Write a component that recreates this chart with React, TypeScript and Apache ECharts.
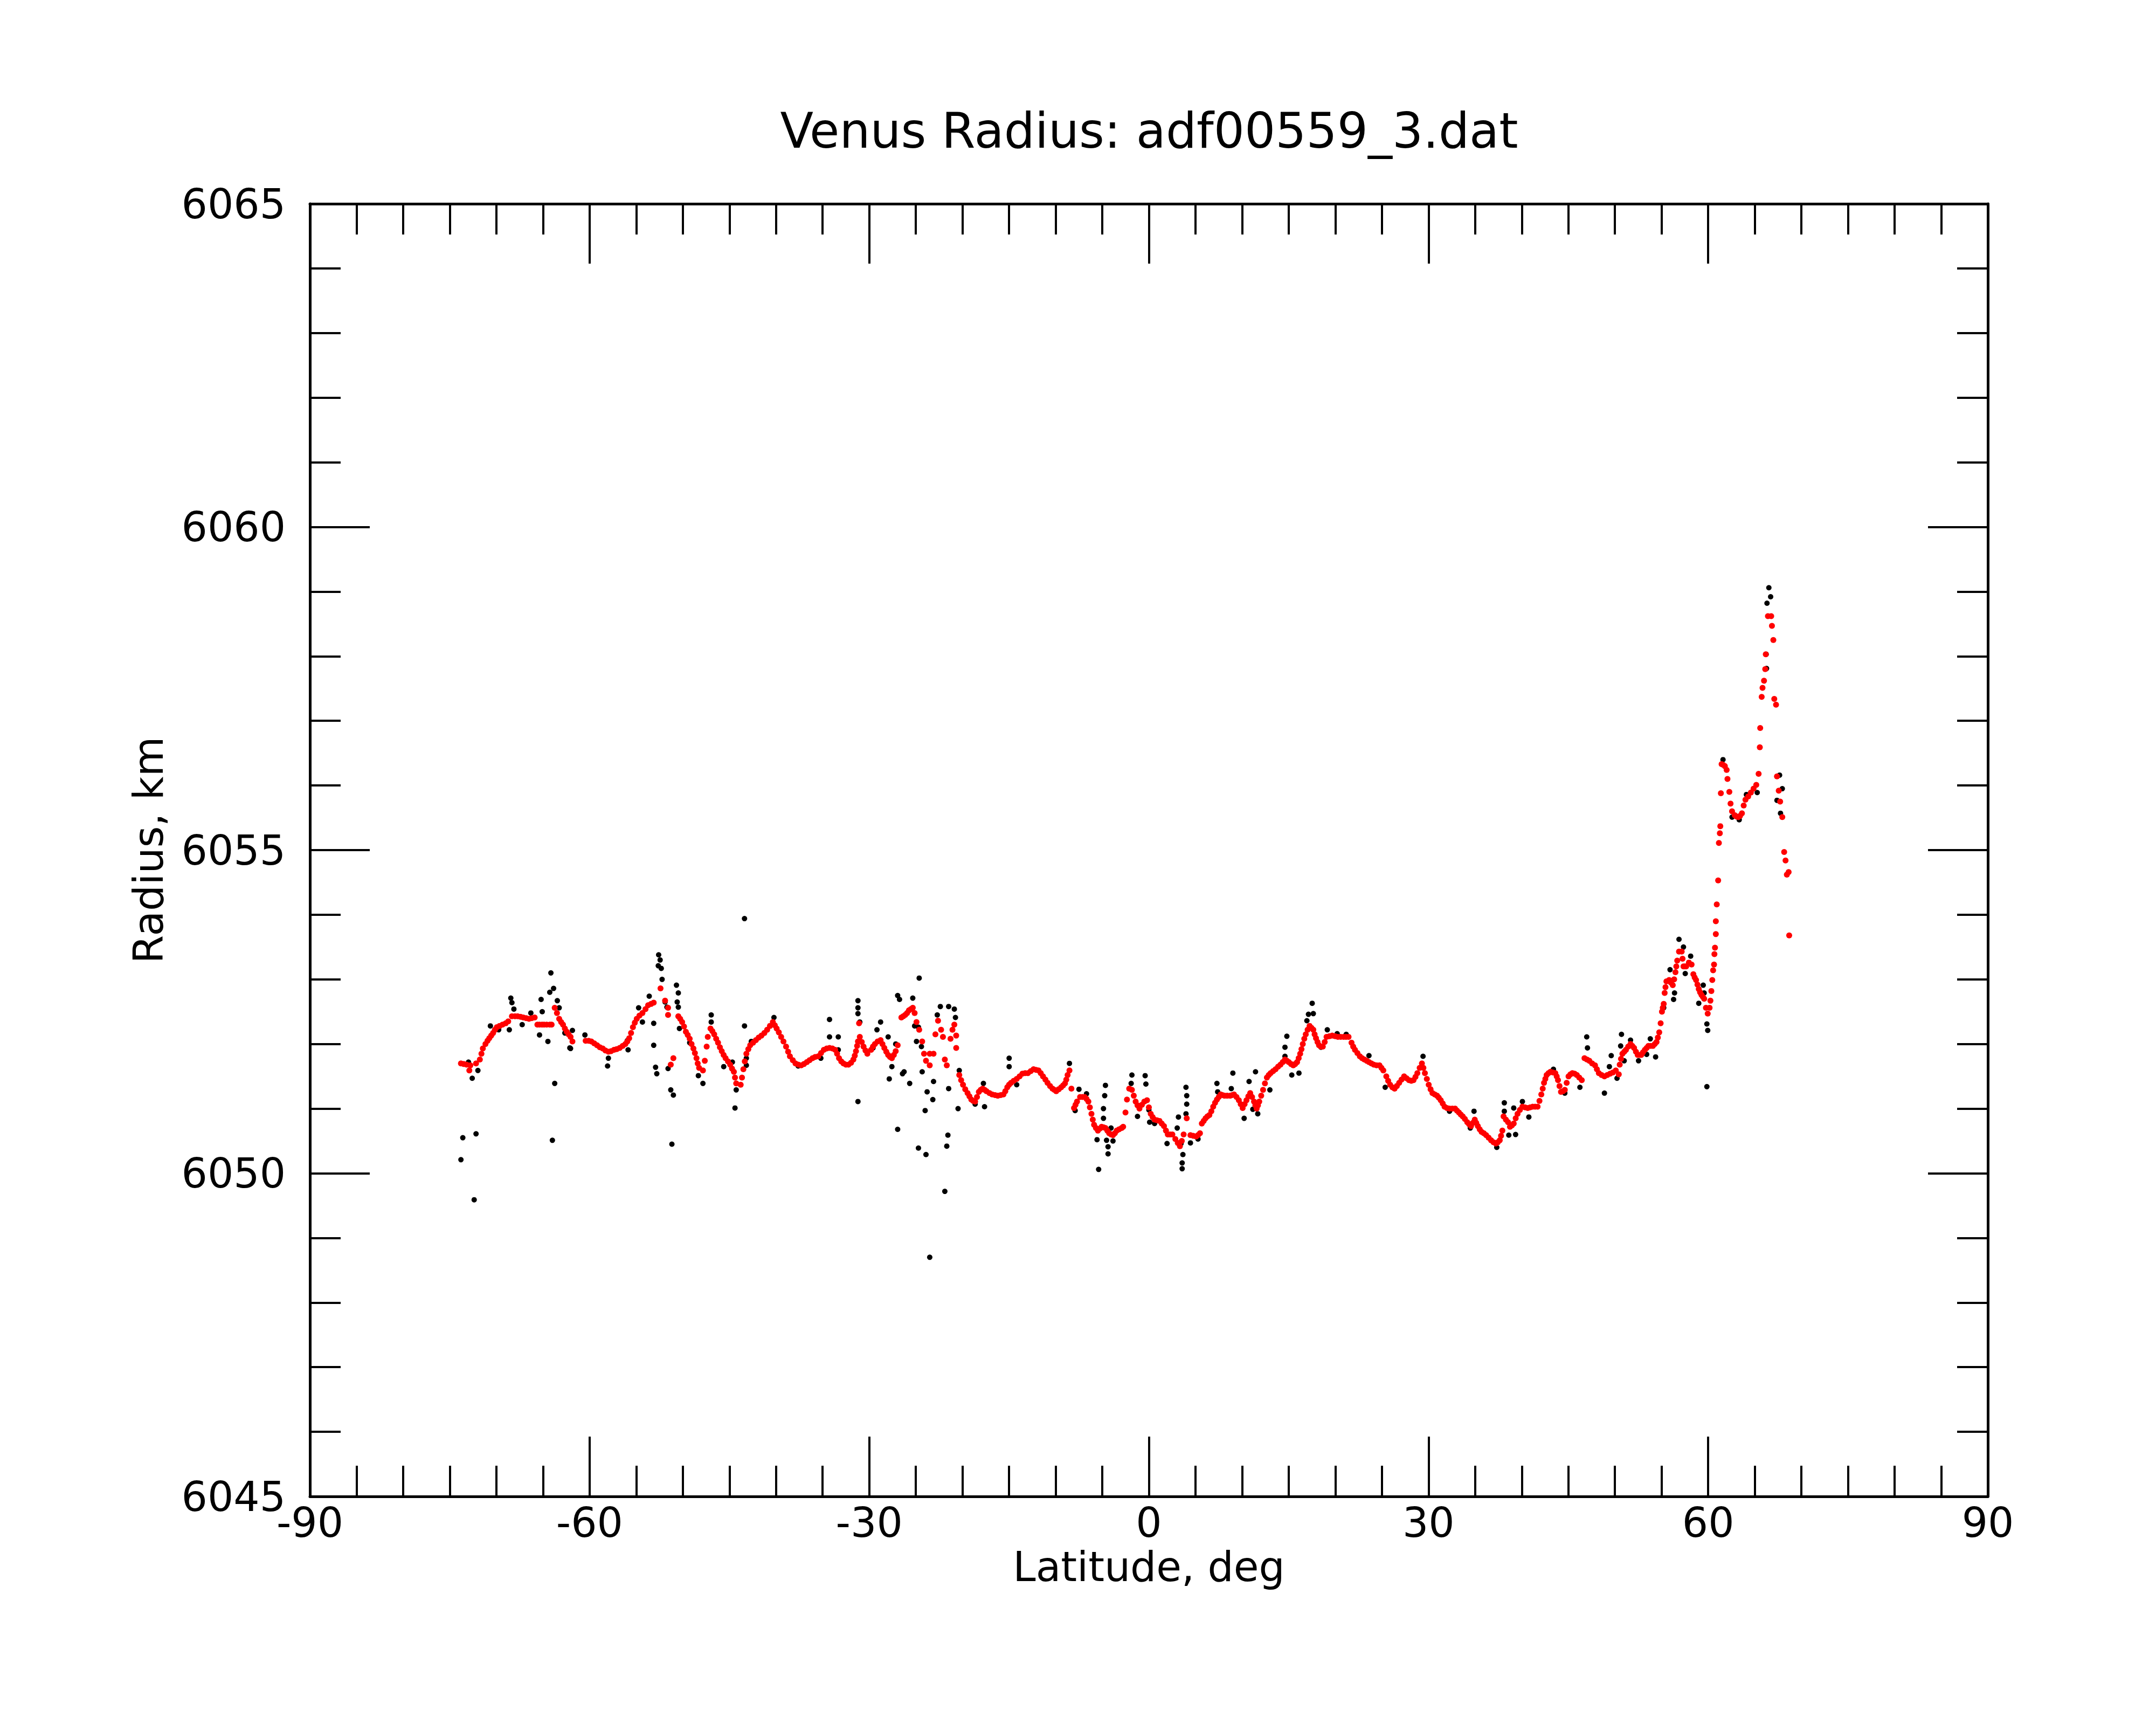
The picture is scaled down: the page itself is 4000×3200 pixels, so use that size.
import React, { useEffect, useRef } from "react";
import * as echarts from "echarts";

const chartTitle = "Venus Radius: adf00559_3.dat";
const xTitle = "Latitude, deg";
const yTitle = "Radius, km";

// Filtered (red) profile, [latitude deg, radius km]
const redSouth: number[][] = [
  [-73.8, 6051.7], [-73.5, 6051.69], [-73.19, 6051.68], [-72.9, 6051.59], [-72.79, 6051.67], [-72.18, 6051.7],
  [-71.77, 6051.76], [-71.6, 6051.85], [-71.45, 6051.93], [-71.17, 6052.0], [-70.95, 6052.05], [-70.76, 6052.09],
  [-70.55, 6052.13], [-70.35, 6052.17], [-70.15, 6052.22], [-69.95, 6052.26], [-69.65, 6052.28], [-69.34, 6052.3],
  [-69.0, 6052.32], [-68.73, 6052.35], [-68.33, 6052.43], [-68.0, 6052.43], [-67.72, 6052.43], [-67.4, 6052.42],
  [-67.11, 6052.41], [-66.8, 6052.4], [-66.5, 6052.39], [-66.2, 6052.4], [-65.89, 6052.41], [-65.6, 6052.3],
  [-65.37, 6052.3], [-65.1, 6052.3], [-64.88, 6052.3], [-64.6, 6052.3], [-64.27, 6052.3], [-64.07, 6052.3],
  [-63.74, 6052.56], [-63.5, 6052.48], [-63.26, 6052.39], [-63.05, 6052.34], [-62.85, 6052.3], [-62.65, 6052.24],
  [-62.45, 6052.19], [-62.25, 6052.15], [-62.04, 6052.11], [-61.84, 6052.04],
  [-60.42, 6052.05], [-60.1, 6052.05], [-59.81, 6052.04], [-59.5, 6052.01], [-59.2, 6051.98], [-58.9, 6051.95],
  [-58.59, 6051.93], [-58.3, 6051.9], [-57.98, 6051.88], [-57.7, 6051.89], [-57.38, 6051.91], [-57.1, 6051.92],
  [-56.77, 6051.94], [-56.45, 6051.97], [-56.16, 6052.0], [-55.95, 6052.04], [-55.75, 6052.09], [-55.55, 6052.17],
  [-55.35, 6052.26], [-55.15, 6052.33], [-54.94, 6052.39], [-54.65, 6052.44], [-54.33, 6052.48], [-54.0, 6052.54],
  [-53.72, 6052.6], [-53.4, 6052.62], [-53.12, 6052.64], [-52.39, 6052.86], [-51.9, 6052.67], [-51.58, 6052.56],
  [-51.58, 6052.45], [-51.29, 6051.68], [-51.01, 6051.78], [-50.48, 6052.43], [-50.28, 6052.39], [-50.07, 6052.34],
  [-49.87, 6052.27], [-49.67, 6052.19], [-49.47, 6052.14], [-49.26, 6052.08], [-49.06, 6052.0], [-48.86, 6051.93],
  [-48.7, 6051.86], [-48.53, 6051.78], [-48.4, 6051.7], [-48.25, 6051.63], [-47.84, 6051.59], [-47.64, 6051.74],
  [-47.44, 6051.96], [-47.32, 6052.11], [-47.03, 6052.24], [-46.83, 6052.2], [-46.63, 6052.15], [-46.42, 6052.08],
  [-46.22, 6052.02], [-46.02, 6051.95], [-45.82, 6051.89], [-45.62, 6051.83], [-45.41, 6051.78], [-45.15, 6051.73],
  [-44.92, 6051.68], [-44.72, 6051.62], [-44.52, 6051.57], [-44.4, 6051.48], [-44.27, 6051.39], [-43.79, 6051.37],
  [-43.65, 6051.48], [-43.5, 6051.61], [-43.35, 6051.73], [-43.18, 6051.85], [-42.97, 6051.92], [-42.77, 6051.98],
  [-42.46, 6052.02], [-42.16, 6052.06], [-41.86, 6052.1], [-41.56, 6052.13], [-41.25, 6052.17], [-40.95, 6052.22],
  [-40.65, 6052.28], [-40.34, 6052.34], [-40.13, 6052.29], [-39.93, 6052.24], [-39.7, 6052.18], [-39.45, 6052.11],
  [-39.2, 6052.04], [-38.92, 6051.96], [-38.7, 6051.88], [-38.51, 6051.81], [-38.2, 6051.75], [-37.91, 6051.7],
  [-37.6, 6051.68], [-37.3, 6051.67], [-37.0, 6051.69], [-36.69, 6051.72], [-36.4, 6051.75], [-36.08, 6051.78],
  [-35.8, 6051.8], [-35.47, 6051.81], [-35.17, 6051.86], [-34.87, 6051.91], [-34.56, 6051.93], [-34.26, 6051.94],
  [-33.95, 6051.93], [-33.65, 6051.91], [-33.45, 6051.85], [-33.24, 6051.78], [-33.0, 6051.73], [-32.76, 6051.7],
  [-32.5, 6051.68], [-32.23, 6051.68], [-31.95, 6051.71], [-31.7, 6051.76], [-31.55, 6051.82], [-31.42, 6051.89],
  [-31.3, 6051.97], [-31.21, 6052.04], [-31.09, 6052.32], [-31.01, 6052.11], [-30.8, 6052.03], [-30.61, 6051.96],
  [-30.4, 6051.9], [-30.2, 6051.85], [-29.8, 6051.91], [-29.6, 6051.96], [-29.39, 6052.0], [-29.1, 6052.04],
  [-28.78, 6052.06], [-28.58, 6052.0], [-28.38, 6051.94], [-28.17, 6051.88], [-27.97, 6051.83], [-27.77, 6051.8],
  [-27.57, 6051.78], [-27.36, 6051.83], [-27.16, 6051.89], [-26.95, 6051.98], [-26.55, 6052.41], [-26.35, 6052.43],
  [-26.14, 6052.45], [-25.94, 6052.48], [-25.74, 6052.52], [-25.54, 6052.54], [-25.33, 6052.56], [-25.13, 6052.48],
  [-24.93, 6052.34], [-24.64, 6052.22], [-24.32, 6052.04], [-24.12, 6051.85], [-23.91, 6051.74], [-23.51, 6051.85],
  [-23.51, 6051.67], [-23.1, 6051.85], [-22.9, 6052.15], [-22.62, 6052.36], [-22.29, 6052.22], [-22.09, 6052.11],
  [-21.89, 6051.76], [-21.68, 6051.67], [-21.28, 6052.08], [-21.07, 6052.22], [-20.87, 6052.3], [-20.67, 6052.13],
  [-20.67, 6051.94], [-20.34, 6051.52], [-20.14, 6051.44], [-19.94, 6051.37], [-19.7, 6051.3], [-19.45, 6051.24],
  [-19.25, 6051.19], [-19.05, 6051.14], [-18.85, 6051.12], [-18.64, 6051.11], [-18.44, 6051.18], [-18.24, 6051.26],
  [-18.04, 6051.29], [-17.83, 6051.31], [-17.62, 6051.29], [-17.42, 6051.27], [-17.1, 6051.24], [-16.81, 6051.22],
  [-16.5, 6051.21], [-16.21, 6051.2], [-15.9, 6051.21], [-15.6, 6051.22], [-15.4, 6051.27], [-15.19, 6051.33],
  [-15.0, 6051.37], [-14.79, 6051.4], [-14.5, 6051.43], [-14.18, 6051.46], [-13.87, 6051.5], [-13.57, 6051.54],
  [-13.27, 6051.55],
];

const redMiddle: number[][] = [
  [-12.98, 6051.55], [-12.67, 6051.58], [-12.37, 6051.61], [-12.1, 6051.6], [-11.84, 6051.59], [-11.6, 6051.55],
  [-11.36, 6051.5], [-11.1, 6051.45], [-10.87, 6051.4], [-10.6, 6051.35], [-10.34, 6051.31], [-10.14, 6051.29],
  [-9.94, 6051.27], [-9.67, 6051.3], [-9.41, 6051.33], [-9.2, 6051.36], [-9.0, 6051.39], [-8.86, 6051.45],
  [-8.72, 6051.52], [-8.52, 6051.59], [-8.31, 6051.31], [-8.03, 6051.01], [-7.87, 6051.06], [-7.71, 6051.11],
  [-7.38, 6051.18], [-7.13, 6051.18], [-6.89, 6051.18], [-6.69, 6051.15], [-6.49, 6051.11], [-6.33, 6051.02],
  [-6.16, 6050.92], [-6.02, 6050.83], [-5.88, 6050.75], [-5.68, 6050.7], [-5.47, 6050.66], [-5.27, 6050.69],
  [-5.07, 6050.72], [-4.86, 6050.71], [-4.66, 6050.7], [-4.46, 6050.66], [-4.26, 6050.62], [-4.05, 6050.6],
  [-3.85, 6050.59], [-3.65, 6050.62], [-3.45, 6050.66], [-3.2, 6050.68], [-2.92, 6050.7], [-2.76, 6050.72],
  [-2.51, 6050.94], [-2.35, 6051.14], [-2.11, 6051.31], [-1.82, 6051.29], [-1.62, 6051.2], [-1.42, 6051.11],
  [-1.22, 6051.05], [-1.01, 6051.0], [-0.75, 6051.06], [-0.49, 6051.11], [-0.2, 6051.13], [0.0, 6051.02],
  [0.2, 6050.92], [0.4, 6050.87], [0.61, 6050.83], [0.88, 6050.82], [1.14, 6050.81], [1.38, 6050.77],
  [1.62, 6050.73], [1.83, 6050.66], [2.03, 6050.6], [2.27, 6050.6], [2.52, 6050.6], [2.84, 6050.53],
  [3.1, 6050.47], [3.33, 6050.42], [3.53, 6050.5], [3.73, 6050.6], [4.06, 6050.85], [4.46, 6050.59],
  [4.76, 6050.58], [5.07, 6050.57], [5.27, 6050.59], [5.48, 6050.62], [5.68, 6050.77], [5.88, 6050.81],
  [6.08, 6050.85], [6.28, 6050.88], [6.49, 6050.9], [6.7, 6050.96], [6.9, 6051.03], [7.1, 6051.09],
  [7.3, 6051.14], [7.5, 6051.18], [7.71, 6051.22], [7.9, 6051.21], [8.11, 6051.2], [8.4, 6051.2],
  [8.72, 6051.2], [8.93, 6051.21], [9.13, 6051.22], [9.4, 6051.18], [9.65, 6051.13], [9.85, 6051.07],
  [10.06, 6051.01], [10.27, 6051.07], [10.47, 6051.13], [10.67, 6051.19], [10.87, 6051.24], [11.07, 6051.18],
  [11.28, 6051.11], [11.42, 6051.05], [11.56, 6051.0], [11.7, 6051.05], [11.84, 6051.11], [12.05, 6051.2],
  [12.25, 6051.29], [12.45, 6051.39], [12.66, 6051.48], [12.86, 6051.52], [13.06, 6051.55], [13.33, 6051.58],
  [13.59, 6051.61], [13.86, 6051.65], [14.12, 6051.68], [14.36, 6051.72], [14.6, 6051.76], [14.8, 6051.74],
  [15.01, 6051.72], [15.25, 6051.69], [15.49, 6051.67], [15.7, 6051.69], [15.9, 6051.72], [16.07, 6051.78],
  [16.23, 6051.85], [16.37, 6051.92], [16.51, 6052.0], [16.67, 6052.08], [16.83, 6052.15], [17.03, 6052.22],
  [17.24, 6052.28], [17.44, 6052.25], [17.64, 6052.22], [17.78, 6052.15], [17.93, 6052.09], [18.09, 6052.03],
  [18.25, 6051.98], [18.45, 6051.96], [18.66, 6051.96], [18.86, 6052.03], [19.06, 6052.11], [19.37, 6052.12],
  [19.67, 6052.13], [19.98, 6052.12], [20.28, 6052.11], [20.58, 6052.11], [20.89, 6052.11], [21.15, 6052.11],
  [21.42, 6052.11], [21.74, 6052.02], [21.92, 6051.96], [22.11, 6051.91], [22.37, 6051.86], [22.63, 6051.81],
  [22.87, 6051.78], [23.12, 6051.76], [23.37, 6051.74], [23.61, 6051.72], [23.87, 6051.7], [24.13, 6051.68],
  [24.43, 6051.67], [24.74, 6051.67], [24.95, 6051.63], [25.15, 6051.59], [25.47, 6051.5], [25.67, 6051.43],
  [25.88, 6051.37], [26.12, 6051.33], [26.36, 6051.31], [26.6, 6051.35], [26.85, 6051.4], [27.1, 6051.45],
  [27.38, 6051.5], [27.64, 6051.47], [27.9, 6051.44], [28.15, 6051.43], [28.39, 6051.44], [28.6, 6051.49],
  [28.8, 6051.55], [29.05, 6051.63], [29.29, 6051.7], [29.45, 6051.63], [29.61, 6051.55], [29.82, 6051.46],
  [30.02, 6051.37], [30.22, 6051.3], [30.42, 6051.24], [30.67, 6051.22], [30.91, 6051.2], [31.1, 6051.17],
  [31.31, 6051.13], [31.52, 6051.08], [31.72, 6051.03], [31.98, 6051.01], [32.25, 6051.0], [32.55, 6051.0],
  [32.85, 6051.0], [33.05, 6050.97], [33.26, 6050.94], [33.46, 6050.91], [33.67, 6050.88], [33.9, 6050.84],
  [34.15, 6050.79], [34.35, 6050.76], [34.56, 6050.73], [34.76, 6050.78], [34.96, 6050.83], [35.12, 6050.78],
  [35.29, 6050.73], [35.49, 6050.68], [35.69, 6050.64], [35.93, 6050.62], [36.18, 6050.59], [36.45, 6050.55],
  [36.71, 6050.51], [36.97, 6050.48], [37.23, 6050.46], [37.43, 6050.48], [37.64, 6050.51], [37.78, 6050.58],
  [37.92, 6050.66], [38.05, 6050.88], [38.3, 6050.83], [38.53, 6050.79], [38.74, 6050.72], [38.94, 6050.74],
  [39.14, 6050.77], [39.35, 6050.85], [39.55, 6050.92], [39.8, 6050.98], [40.07, 6051.03], [40.35, 6051.02],
  [40.64, 6051.01], [40.9, 6051.02], [41.17, 6051.03], [41.43, 6051.03], [41.7, 6051.03], [41.9, 6051.12],
  [42.1, 6051.22], [42.25, 6051.31], [42.39, 6051.4], [42.53, 6051.46], [42.67, 6051.52], [42.87, 6051.55],
  [43.08, 6051.57], [43.34, 6051.56], [43.6, 6051.55], [43.75, 6051.5], [43.89, 6051.44], [44.05, 6051.35],
  [44.21, 6051.26], [44.42, 6051.27], [44.62, 6051.29], [44.82, 6051.4], [45.02, 6051.5], [45.22, 6051.53],
  [45.43, 6051.55], [45.67, 6051.54], [45.91, 6051.52], [46.17, 6051.48], [46.44, 6051.44], [46.73, 6051.78],
  [47.0, 6051.76], [47.25, 6051.74], [47.55, 6051.7], [47.86, 6051.67], [48.06, 6051.61], [48.27, 6051.55],
  [48.57, 6051.52], [48.87, 6051.5], [49.17, 6051.52], [49.48, 6051.54], [49.78, 6051.56], [50.09, 6051.59],
];

const redNorth: number[][] = [
  [50.41, 6051.53], [50.51, 6051.68], [50.65, 6051.77], [50.8, 6051.85], [51.0, 6051.88], [51.18, 6051.91],
  [51.42, 6051.96], [51.67, 6052.0], [51.86, 6051.97], [52.05, 6051.94], [52.25, 6051.88], [52.44, 6051.83],
  [52.63, 6051.83], [52.82, 6051.83], [53.0, 6051.87], [53.21, 6051.91], [53.4, 6051.94], [53.59, 6051.97],
  [53.83, 6051.97], [54.07, 6051.97], [54.27, 6052.0], [54.46, 6052.03], [54.6, 6052.1], [54.75, 6052.18],
  [54.9, 6052.32], [55.04, 6052.5], [55.13, 6052.56], [55.23, 6052.62], [55.33, 6052.79], [55.42, 6052.88],
  [55.52, 6052.97], [55.81, 6052.99], [56.0, 6052.95], [56.2, 6052.91], [56.35, 6053.0], [56.49, 6053.11],
  [56.58, 6053.2], [56.68, 6053.29], [56.87, 6053.43], [57.16, 6053.43], [57.25, 6053.32], [57.35, 6053.2],
  [57.5, 6053.2], [57.64, 6053.2], [57.93, 6053.26], [58.22, 6053.23], [58.41, 6053.08], [58.55, 6053.03],
  [58.7, 6052.99], [58.85, 6052.92], [58.99, 6052.85], [59.13, 6052.8], [59.28, 6052.76], [59.43, 6052.73],
  [59.57, 6052.7], [59.76, 6052.56], [59.95, 6052.47], [60.15, 6052.56], [60.24, 6052.67], [60.34, 6052.82],
  [60.44, 6052.99], [60.53, 6053.14], [60.63, 6053.23], [60.67, 6053.39], [60.73, 6053.49], [60.82, 6053.7],
  [60.82, 6053.9], [60.92, 6054.16], [61.07, 6054.53], [61.15, 6055.11], [61.25, 6055.26], [61.3, 6055.37],
  [61.36, 6055.88], [61.44, 6056.33], [61.6, 6056.32], [61.79, 6056.3], [61.98, 6056.24], [62.07, 6056.1],
  [62.27, 6055.9], [62.4, 6055.72], [62.56, 6055.6], [62.85, 6055.54], [63.04, 6055.52], [63.23, 6055.51],
  [63.42, 6055.53], [63.62, 6055.57], [63.81, 6055.69], [64.0, 6055.78], [64.29, 6055.83], [64.58, 6055.89],
  [64.87, 6055.95], [65.16, 6056.01], [65.41, 6056.18], [65.54, 6056.59], [65.58, 6056.89], [65.74, 6057.37],
  [65.83, 6057.51], [65.99, 6057.62], [66.12, 6057.8], [66.18, 6058.03], [66.41, 6058.62], [66.76, 6058.62],
  [66.84, 6058.47], [66.99, 6058.25], [67.09, 6057.34], [67.28, 6057.25], [67.38, 6056.14], [67.57, 6055.92],
  [67.72, 6055.75], [67.95, 6055.51], [68.15, 6054.97], [68.3, 6054.84], [68.44, 6054.62], [68.63, 6054.66],
  [68.69, 6053.68],
];

// Raw (black) measurements, [latitude deg, radius km]
const blackSouth: number[][] = [
  [-73.8, 6050.21], [-73.6, 6050.55], [-72.38, 6049.59], [-72.18, 6050.61], [-72.59, 6051.47],
  [-71.98, 6051.59], [-72.99, 6051.72], [-70.64, 6052.28], [-69.75, 6052.22], [-68.61, 6052.22],
  [-68.45, 6052.71], [-68.33, 6052.64], [-68.12, 6052.54], [-67.23, 6052.3], [-66.3, 6052.48],
  [-65.37, 6052.14], [-65.2, 6052.69], [-65.08, 6052.5], [-64.47, 6052.04], [-64.27, 6052.8],
  [-64.15, 6053.1], [-63.86, 6052.86], [-63.46, 6052.67], [-63.26, 6052.56], [-63.74, 6051.39],
  [-63.99, 6050.51], [-62.65, 6052.17], [-61.84, 6052.21], [-62.12, 6051.94], [-62.04, 6051.93],
  [-60.5, 6052.14], [-57.98, 6051.78], [-58.07, 6051.66], [-55.87, 6051.91], [-55.96, 6052.05],
  [-54.74, 6052.56], [-54.33, 6052.34], [-53.6, 6052.74], [-53.12, 6052.32], [-53.12, 6051.98],
  [-52.92, 6051.64], [-52.79, 6051.54], [-52.59, 6053.38], [-52.43, 6053.3], [-52.63, 6053.21],
  [-52.31, 6053.17], [-52.22, 6053.0], [-51.58, 6051.62], [-51.29, 6051.29], [-51.01, 6051.21],
  [-51.17, 6050.45], [-50.68, 6052.91], [-50.48, 6052.79], [-50.6, 6052.65], [-50.48, 6052.57],
  [-51.9, 6052.65], [-51.7, 6052.57], [-50.36, 6052.24], [-49.26, 6052.02], [-47.84, 6051.39],
  [-48.33, 6051.51], [-46.95, 6052.45], [-46.95, 6052.34], [-45.61, 6051.65], [-44.68, 6051.72],
  [-44.27, 6051.29], [-44.4, 6051.01], [-43.38, 6052.28], [-43.38, 6053.94], [-43.18, 6051.67],
  [-43.18, 6051.78], [-42.65, 6052.04], [-40.22, 6052.41], [-37.62, 6051.66], [-35.19, 6051.78],
  [-34.26, 6052.11], [-34.26, 6052.38], [-33.32, 6052.11], [-33.32, 6051.91], [-31.21, 6052.67],
  [-31.21, 6052.56], [-31.21, 6052.47], [-31.21, 6051.11], [-31.01, 6052.34], [-29.17, 6052.22],
  [-29.59, 6051.94], [-28.78, 6052.34], [-27.97, 6052.11], [-27.85, 6051.46], [-27.57, 6051.65],
  [-27.16, 6052.0], [-26.95, 6052.75], [-26.75, 6052.69], [-26.43, 6051.54], [-26.26, 6051.57],
  [-25.66, 6051.39], [-26.95, 6050.68], [-25.33, 6052.71], [-25.13, 6052.28], [-24.72, 6052.26],
  [-24.64, 6053.02], [-24.93, 6052.04], [-24.4, 6051.96], [-24.72, 6050.39], [-24.32, 6051.57],
  [-23.91, 6050.29], [-24.0, 6050.97], [-23.79, 6051.26], [-23.51, 6048.7], [-23.18, 6051.14],
  [-23.1, 6051.42], [-22.7, 6052.45], [-22.37, 6052.58], [-21.89, 6049.72], [-21.68, 6050.42],
  [-21.56, 6050.59], [-21.48, 6051.31], [-21.48, 6052.58], [-20.87, 6052.54], [-20.75, 6052.41],
  [-20.47, 6051.0], [-20.34, 6051.59], [-17.75, 6051.39], [-17.63, 6051.03], [-18.64, 6051.07],
  [-14.99, 6051.78], [-14.99, 6051.65], [-14.18, 6051.37],
];

const blackMiddle: number[][] = [
  [-8.52, 6051.7], [-7.5, 6051.3], [-6.69, 6051.23], [-7.91, 6050.97], [-4.66, 6051.36],
  [-4.74, 6051.2], [-4.87, 6051.0], [-4.87, 6050.85], [-5.56, 6050.52], [-5.39, 6050.06],
  [-4.54, 6050.51], [-4.38, 6050.41], [-4.38, 6050.3], [-3.85, 6050.5], [-4.06, 6050.7],
  [-1.82, 6051.52], [-1.9, 6051.39], [-0.4, 6051.51], [-0.32, 6051.38], [-1.22, 6050.88],
  [0.0, 6050.98], [0.08, 6050.79], [0.61, 6050.77], [1.95, 6050.46], [3.04, 6050.7],
  [3.17, 6050.87], [3.98, 6051.33], [4.06, 6051.2], [4.06, 6051.07], [3.98, 6050.92],
  [3.65, 6050.29], [3.57, 6050.16], [3.57, 6050.07], [3.45, 6050.46], [4.46, 6050.47],
  [5.27, 6050.53], [7.3, 6051.39], [7.38, 6051.26], [8.84, 6051.31], [9.01, 6051.55],
  [10.22, 6050.85], [10.75, 6051.42], [10.87, 6051.22], [11.15, 6050.99], [11.44, 6051.57],
  [11.68, 6050.92], [12.98, 6051.29], [14.6, 6051.81], [14.6, 6051.95], [14.8, 6052.12],
  [15.33, 6051.52], [16.1, 6051.55], [16.95, 6052.36], [17.12, 6052.46], [17.52, 6052.63],
  [17.64, 6052.47], [18.46, 6051.95], [19.14, 6052.22], [20.2, 6052.16], [21.17, 6052.15],
  [23.61, 6051.82], [25.35, 6051.33], [29.41, 6051.81], [32.25, 6050.96], [34.88, 6050.96],
  [34.48, 6050.7], [37.32, 6050.4], [38.13, 6051.09], [38.13, 6050.96], [38.61, 6050.59],
  [39.14, 6051.01], [39.34, 6050.6], [40.07, 6051.11], [40.76, 6050.87], [43.4, 6051.61],
  [44.62, 6051.24], [46.24, 6051.33], [46.97, 6052.11], [47.05, 6051.94], [48.87, 6051.24],
  [49.6, 6051.82], [49.4, 6051.65],
];

const blackNorth: number[][] = [
  [50.22, 6051.47], [50.7, 6052.15], [50.61, 6051.97], [50.99, 6051.74], [51.67, 6052.06],
  [52.53, 6051.74], [53.79, 6052.08], [54.36, 6051.8], [53.4, 6051.84], [55.23, 6052.56],
  [55.91, 6053.15], [56.39, 6052.79], [56.29, 6052.69], [56.87, 6053.62], [57.35, 6053.5],
  [58.12, 6053.36], [57.54, 6053.09], [59.47, 6052.91], [58.99, 6052.63], [59.57, 6052.79],
  [59.86, 6052.31], [59.95, 6052.21], [59.86, 6051.34], [61.59, 6056.4], [62.56, 6055.51],
  [63.33, 6055.47], [64.1, 6055.86], [65.26, 6055.89], [66.51, 6059.06], [66.7, 6058.92],
  [66.31, 6058.82], [66.22, 6058.03], [66.26, 6057.81], [67.66, 6056.16], [67.95, 6055.95],
  [67.38, 6055.77], [67.76, 6055.57],
];

const latMin = -90;
const latMax = 90;
const latStep = 30;
const radMin = 6045;
const radMax = 6065;
const radStep = 5;

const FONT = "DejaVu Sans";

export default function App() {
  const ref = useRef<HTMLDivElement>(null);
  useEffect(() => {
    if (!ref.current) return;
    const chart = echarts.init(ref.current, undefined, { renderer: "svg" });
    const black = [...blackSouth, ...blackMiddle, ...blackNorth];
    const red = [...redSouth, ...redMiddle, ...redNorth];
    const axisLine = { show: true, onZero: false, lineStyle: { color: "#000", width: 5 } };
    const tick = { show: true, inside: true, length: 111, lineStyle: { color: "#000", width: 4 } };
    const minor = (n: number) => ({ show: true, splitNumber: n, length: 57, lineStyle: { color: "#000", width: 4 } });
    const plain = (v: number) => String(v);
    chart.setOption({
      animation: false,
      backgroundColor: "#fff",
      title: {
        text: chartTitle,
        left: 2132,
        top: 197,
        textAlign: "center",
        padding: 0,
        textStyle: { fontFamily: FONT, fontSize: 90, fontWeight: "normal", color: "#000" },
      },
      grid: { left: 575, top: 378, width: 3113, height: 2398, containLabel: false },
      xAxis: [
        {
          type: "value", min: latMin, max: latMax, interval: latStep, position: "bottom",
          name: xTitle, nameLocation: "middle", nameGap: 92,
          nameTextStyle: { fontFamily: FONT, fontSize: 76, color: "#000" },
          axisLine, axisTick: tick, minorTick: minor(6), splitLine: { show: false },
          axisLabel: { show: true, formatter: plain, fontFamily: FONT, fontSize: 76, color: "#000", margin: 10, showMinLabel: true, showMaxLabel: true },
        },
        {
          type: "value", min: latMin, max: latMax, interval: latStep, position: "top",
          axisLine, axisTick: tick, minorTick: minor(6), splitLine: { show: false },
          axisLabel: { show: false },
        },
      ],
      yAxis: [
        {
          type: "value", min: radMin, max: radMax, interval: radStep, position: "left",
          name: yTitle, nameLocation: "middle", nameGap: 262,
          nameTextStyle: { fontFamily: FONT, fontSize: 76, color: "#000" },
          axisLine, axisTick: tick, minorTick: minor(5), splitLine: { show: false },
          axisLabel: { show: true, formatter: plain, fontFamily: FONT, fontSize: 76, color: "#000", margin: 45, showMinLabel: true, showMaxLabel: true },
        },
        {
          type: "value", min: radMin, max: radMax, interval: radStep, position: "right",
          axisLine, axisTick: tick, minorTick: minor(5), splitLine: { show: false },
          axisLabel: { show: false },
        },
      ],
      series: [
        {
          name: "raw", type: "scatter", xAxisIndex: 0, yAxisIndex: 0, data: black,
          symbol: "circle", symbolSize: 10, itemStyle: { color: "#000", opacity: 1 }, silent: true,
        },
        {
          name: "filtered", type: "scatter", xAxisIndex: 0, yAxisIndex: 0, data: red,
          symbol: "circle", symbolSize: 11, itemStyle: { color: "#ff0000", opacity: 1 }, silent: true,
        },
      ],
    });
    return () => chart.dispose();
  }, []);
  return (
    <div
      ref={ref}
      style={{ position: "absolute", left: 0, top: 0, width: 4000, height: 3200, background: "#fff" }}
    />
  );
}
